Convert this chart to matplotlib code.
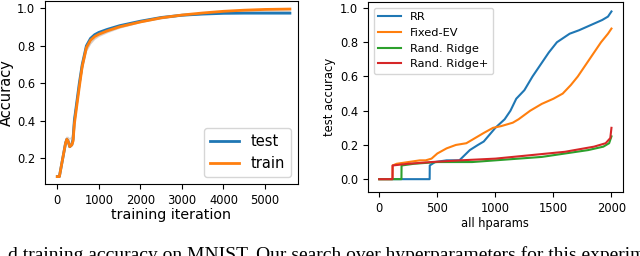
import matplotlib
matplotlib.use("Agg")
import matplotlib.pyplot as plt

# ---- left panel data ----
iters = [0, 50, 100, 150, 200, 230, 260, 300, 350, 380, 410, 470, 530, 600, 700, 800, 900, 1000,
         1200, 1500, 2000, 2500, 3000, 3500, 4000, 4500, 5000, 5600]
test_acc = [0.10, 0.10, 0.16, 0.22, 0.28, 0.30, 0.29, 0.26, 0.27, 0.30, 0.40, 0.50, 0.60, 0.70,
            0.80, 0.84, 0.86, 0.872, 0.888, 0.908, 0.932, 0.952, 0.964, 0.970, 0.974, 0.975, 0.975, 0.975]
train_acc = [0.10, 0.10, 0.16, 0.22, 0.28, 0.30, 0.29, 0.26, 0.27, 0.29, 0.38, 0.48, 0.58, 0.69,
             0.79, 0.83, 0.85, 0.862, 0.88, 0.902, 0.928, 0.950, 0.965, 0.976, 0.985, 0.991, 0.995, 0.997]
run_a = [0.10, 0.10, 0.17, 0.23, 0.29, 0.31, 0.31, 0.30, 0.31, 0.34, 0.42, 0.50, 0.58, 0.67,
         0.77, 0.81, 0.835, 0.85, 0.87, 0.895, 0.925, 0.945, 0.96, 0.97, 0.98, 0.988, 0.993, 0.995]
run_b = [0.10, 0.10, 0.15, 0.21, 0.27, 0.29, 0.28, 0.27, 0.29, 0.32, 0.41, 0.51, 0.59, 0.68,
         0.775, 0.815, 0.84, 0.855, 0.875, 0.898, 0.926, 0.947, 0.962, 0.972, 0.978, 0.982, 0.984, 0.985]

# ---- right panel data ----
rr_x = [0, 434, 435, 480, 580, 690, 720, 780, 850, 900, 950, 1000, 1080, 1130, 1180, 1250, 1320,
        1400, 1460, 1530, 1640, 1720, 1820, 1920, 1970, 2000]
rr_y = [0.0, 0.0, 0.08, 0.10, 0.11, 0.11, 0.13, 0.17, 0.20, 0.22, 0.26, 0.30, 0.35, 0.40, 0.47,
        0.52, 0.60, 0.68, 0.74, 0.80, 0.85, 0.87, 0.90, 0.93, 0.95, 0.98]
fev_x = [0, 114, 115, 150, 250, 350, 400, 450, 500, 580, 660, 750, 800, 900, 980, 1050, 1150,
         1200, 1300, 1400, 1500, 1580, 1650, 1710, 1810, 1910, 1970, 2000]
fev_y = [0.0, 0.0, 0.08, 0.09, 0.10, 0.11, 0.11, 0.12, 0.15, 0.18, 0.20, 0.21, 0.23, 0.27, 0.30,
         0.31, 0.33, 0.35, 0.40, 0.44, 0.47, 0.50, 0.55, 0.60, 0.70, 0.80, 0.85, 0.88]
rrg_x = [0, 191, 192, 300, 500, 800, 1000, 1200, 1400, 1600, 1800, 1930, 1980, 2000]
rrg_y = [0.0, 0.0, 0.08, 0.09, 0.10, 0.10, 0.11, 0.12, 0.13, 0.15, 0.17, 0.19, 0.21, 0.25]
rrp_x = [0, 114, 115, 250, 450, 700, 1000, 1300, 1600, 1850, 1950, 1990, 2000]
rrp_y = [0.0, 0.0, 0.08, 0.09, 0.10, 0.11, 0.12, 0.14, 0.16, 0.19, 0.21, 0.24, 0.30]

left_xticks = [0, 1000, 2000, 3000, 4000, 5000]
left_yticks = [0.2, 0.4, 0.6, 0.8, 1.0]
right_xticks = [0, 500, 1000, 1500, 2000]
right_yticks = [0.0, 0.2, 0.4, 0.6, 0.8, 1.0]

caption = "d training accuracy on MNIST. Our search over hyperparameters for this experiment"

fig = plt.figure(figsize=(6.4, 2.56), dpi=100)

ax1 = fig.add_axes([0.0703, 0.281, 0.3953, 0.715])
ax1.plot(iters, run_a, color="#c8b8b0", lw=1.0, alpha=0.6)
ax1.plot(iters, run_b, color="#c8c0b8", lw=1.0, alpha=0.6)
ax1.plot(iters, test_acc, color="#1f77b4", lw=2.0, label="test")
ax1.plot(iters, train_acc, color="#ff7f0e", lw=2.0, label="train")
ax1.set_xlim(-296, 5794)
ax1.set_ylim(0.06, 1.04)
ax1.set_xticks(left_xticks)
ax1.set_yticks(left_yticks)
ax1.tick_params(labelsize=8.3)
ax1.set_xlabel("training iteration", fontsize=10.3, labelpad=1)
ax1.set_ylabel("Accuracy", fontsize=10.5, labelpad=2)
ax1.legend(loc="lower right", fontsize=10.5, handlelength=2.0)

ax2 = fig.add_axes([0.575, 0.25, 0.398, 0.742])
ax2.plot(rr_x, rr_y, color="#1f77b4", lw=1.5, label="RR")
ax2.plot(fev_x, fev_y, color="#ff7f0e", lw=1.5, label="Fixed-EV")
ax2.plot(rrg_x, rrg_y, color="#2ca02c", lw=1.5, label="Rand. Ridge")
ax2.plot(rrp_x, rrp_y, color="#d62728", lw=1.5, label="Rand. Ridge+")
ax2.set_xlim(-97, 2097)
ax2.set_ylim(-0.075, 1.035)
ax2.set_xticks(right_xticks)
ax2.set_yticks(right_yticks)
ax2.tick_params(labelsize=8.3)
ax2.set_xlabel("all hparams", fontsize=8.3, labelpad=2)
ax2.set_ylabel("test accuracy", fontsize=8.3, labelpad=3)
ax2.legend(loc="upper left", fontsize=8.2, handlelength=2.0)

fig.text(0.012, -3.5 / 256, caption, fontsize=14, family="Liberation Serif",
         va="baseline", ha="left")

fig.savefig("out.png", dpi=100)
